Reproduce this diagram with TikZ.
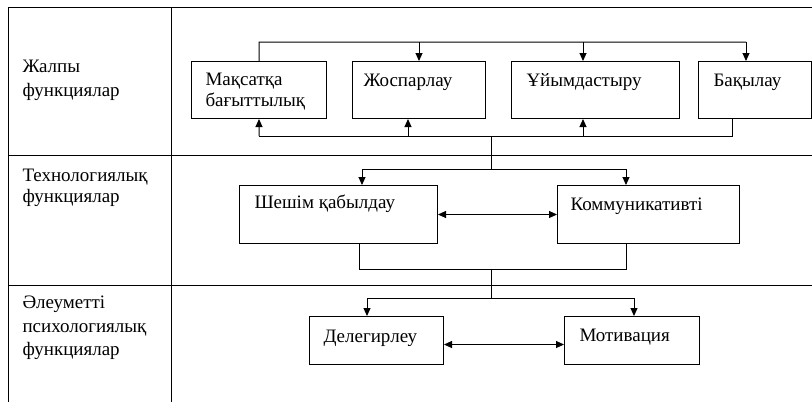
\documentclass[tikz,border=0pt]{standalone}
\usepackage{fontspec}
\setmainfont{Liberation Serif}
\usetikzlibrary{arrows.meta,calc}
\begin{document}
\begin{tikzpicture}[x=1bp,y=-1bp, line width=1bp,
  box/.style={draw, rectangle, inner sep=0pt, anchor=north west},
  txt/.style={anchor=base west, inner sep=0pt, font=\fontsize{19bp}{22bp}\selectfont},
  arr/.style={-{Triangle[length=8bp,width=7bp]}},
  darr/.style={{Triangle[length=8bp,width=7bp]}-{Triangle[length=8bp,width=7bp]}}]
\useasboundingbox (0,0) rectangle (812,402);
% table
\draw (812,7) -- (8,7) -- (8,402);
\draw (171,7) -- (171,402);
\draw (8,155) -- (812,155);
\draw (8,285) -- (812,285);
% left labels
\node[txt] (l1a) at (22,72) {Жалпы};
\node[txt] (l1b) at (22,96) {функциялар};
\node[txt] (l2a) at (22,181) {Технологиялық};
\node[txt] (l2b) at (22,202) {функциялар};
\node[txt] (l3a) at (22,308) {Әлеуметті};
\node[txt] (l3b) at (22,332) {психологиялық};
\node[txt] (l3c) at (22,355) {функциялар};
% boxes
\node[box, minimum width=135bp, minimum height=57bp] (b1) at (191,61) {};
\node[box, minimum width=133bp, minimum height=57bp] (b2) at (352,61) {};
\node[box, minimum width=168bp, minimum height=57bp] (b3) at (511,61) {};
\node[box, minimum width=113bp, minimum height=57bp] (b4) at (698,61) {};
\node[box, minimum width=198bp, minimum height=58bp] (s1) at (239,185) {};
\node[box, minimum width=182bp, minimum height=58bp] (s2) at (557,185) {};
\node[box, minimum width=134bp, minimum height=48bp] (d1) at (309,316) {};
\node[box, minimum width=135bp, minimum height=48bp] (d2) at (564,316) {};
% box texts
\node[txt] (t1a) at (205,85) {Мақсатқа};
\node[txt] (t1b) at (205,106) {бағыттылық};
\node[txt] (t2) at (363,86) {Жоспарлау};
\node[txt] (t3) at (526,86) {Ұйымдастыру};
\node[txt] (t4) at (713,86) {Бақылау};
\node[txt] (t5) at (254,208) {Шешім қабылдау};
\node[txt] (t6) at (570,210) {Коммуникативті};
\node[txt] (t7) at (323,342) {Делегирлеу};
\node[txt] (t8) at (579,341) {Мотивация};
% junction coordinates
\coordinate (tA) at (259,42);
\coordinate (tB) at (419,42);
\coordinate (tC) at (583,42);
\coordinate (tD) at (746,42);
\coordinate (uA) at (259,136);
\coordinate (uB) at (408,136);
\coordinate (uC) at (583,136);
\coordinate (uD) at (732,136);
\coordinate (j1) at (491,136);
\coordinate (j2) at (491,169);
\coordinate (hL) at (362,169);
\coordinate (hR) at (626,169);
\coordinate (mL) at (359,269);
\coordinate (mR) at (626,269);
\coordinate (j3) at (491,269);
\coordinate (j4) at (491,298);
\coordinate (nL) at (367,298);
\coordinate (nR) at (634,298);
% top connectors
\draw (b1.north) -- (tA) -- (tD);
\draw[arr] (tD) -- (tD |- b4.north);
\draw[arr] (tB) -- (tB |- b2.north);
\draw[arr] (tC) -- (tC |- b3.north);
% bottom connectors
\draw (uD |- b4.south) -- (uD) -- (uA);
\draw[arr] (uA) -- (b1.south);
\draw[arr] (uB) -- (uB |- b2.south);
\draw[arr] (uC) -- (uC |- b3.south);
% to second row
\draw (j1) -- (j2);
\draw (hL) -- (hR);
\draw[arr] (hL) -- (hL |- s1.north);
\draw[arr] (hR) -- (hR |- s2.north);
\draw[darr] (s1.east) -- (s2.west);
% to third row
\draw (mL |- s1.south) -- (mL) -- (mR) -- (mR |- s2.south);
\draw (j3) -- (j4);
\draw (nL) -- (nR);
\draw[arr] (nL) -- (nL |- d1.north);
\draw[arr] (nR) -- (nR |- d2.north);
\draw[darr] ($(d1.east)+(0,4)$) -- ($(d2.west)+(0,4)$);
\end{tikzpicture}
\end{document}
